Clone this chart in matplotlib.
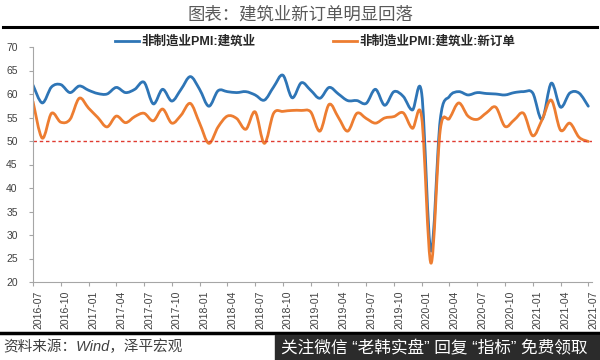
import matplotlib
matplotlib.use("Agg")
import matplotlib.pyplot as plt
import matplotlib.transforms as mtransforms
from matplotlib.lines import Line2D
from matplotlib.patches import Rectangle, PathPatch
from matplotlib.path import Path
import numpy as np
import pandas as pd

plt.rcParams['font.family'] = ['Liberation Sans', 'Noto Sans CJK SC']

# monthly, 2016-07 .. 2021-07
months = list(pd.date_range('2016-07-01', '2021-07-01', freq='MS').strftime('%Y-%m'))

construction = [61.9, 58.1, 61.5, 62.0, 60.3, 61.7, 60.8, 60.1, 60.0, 61.4,
                60.3, 61.0, 62.5, 57.9, 61.0, 58.5, 61.0, 63.7, 61.0, 57.4,
                60.7, 60.5, 60.3, 60.5, 59.8, 58.7, 61.5, 64.0, 59.2, 62.4,
                60.8, 59.1, 61.4, 60.0, 58.6, 58.6, 58.0, 61.0, 57.6, 60.5,
                59.5, 56.6, 60.1, 26.6, 54.5, 59.5, 60.5, 59.8, 60.3, 60.1,
                60.0, 59.8, 60.3, 60.5, 60.2, 54.6, 62.3, 57.2, 60.2, 60.2,
                57.4]

new_orders = [58.4, 50.6, 55.9, 54.0, 54.6, 59.1, 57.0, 55.0, 53.0, 55.3,
              53.9, 55.2, 55.9, 54.3, 56.8, 53.8, 55.5, 58.0, 53.8, 49.5,
              53.0, 55.3, 54.8, 52.5, 56.2, 49.5, 55.9, 56.3, 56.5, 56.5,
              56.2, 52.1, 57.8, 55.0, 52.1, 55.9, 54.8, 53.8, 54.9, 55.2,
              56.0, 52.7, 55.0, 24.0, 52.3, 54.8, 58.1, 55.3, 54.6, 56.0,
              57.2, 53.1, 54.5, 55.9, 51.1, 54.5, 58.7, 52.3, 53.8, 50.8,
              49.9]

labels = ['非制造业PMI:建筑业', '非制造业PMI:建筑业:新订单']
colors = ['#2E75B6', '#ED7D31']


def smooth_path(xs, ys):
    # excel-like smoothed line: cubic bezier through every data point
    p = np.column_stack([xs, ys]).astype(float)
    pad = np.vstack([p[0], p, p[-1]])
    verts = [p[0]]
    codes = [Path.MOVETO]
    for i in range(len(p) - 1):
        c1 = pad[i + 1] + (pad[i + 2] - pad[i]) / 6
        c2 = pad[i + 2] - (pad[i + 3] - pad[i + 1]) / 6
        verts += [c1, c2, p[i + 1]]
        codes += [Path.CURVE4] * 3
    return Path(verts, codes)


fig = plt.figure(figsize=(6, 3.6), dpi=100)
ax = fig.add_axes([33/600, 78/360, 559/600, 235/360])

x = np.arange(len(months))
for ys, c in zip([construction, new_orders], colors):
    ax.add_patch(PathPatch(smooth_path(x, ys), fill=False, edgecolor=c,
                           lw=2, capstyle='round', joinstyle='round'))
ax.axhline(50, color='#E03C31', lw=1, ls=(0, (2.5, 2)))

ax.set_xlim(0, 60.4)
ax.set_ylim(20, 70)
ax.set_yticks(range(20, 71, 5))
ax.set_xticks(x[::3])
ax.set_xticklabels(months[::3], rotation=90)

for s in ['top', 'right']:
    ax.spines[s].set_visible(False)
for s in ['left', 'bottom']:
    ax.spines[s].set_color('#A6A6A6')
ax.tick_params(axis='both', colors='#A6A6A6', labelcolor='#404040',
               labelsize=7.5, length=3)
ax.tick_params(axis='y', pad=8)
ax.tick_params(axis='x', pad=3)

offset = mtransforms.ScaledTranslation(5/100, 0, fig.dpi_scale_trans)
for lab in ax.get_xticklabels():
    lab.set_transform(lab.get_transform() + offset)

handles = [Line2D([], [], color=c, lw=2) for c in colors]
fig.legend(handles, labels, loc='center', bbox_to_anchor=(315/600, 1 - 42/360),
           ncol=2, frameon=False, prop={'size': 9, 'weight': 'bold'},
           handlelength=1.9, handletextpad=0.2, columnspacing=6.2,
           labelcolor='#262626')

fig.text(0.5, 1 - 14/360, '图表：建筑业新订单明显回落', ha='center', va='center',
         fontsize=12.5, color='#595959')
fig.add_artist(Line2D([0.005, 0.995], [1 - 27/360] * 2, color='black', lw=2.2,
                      transform=fig.transFigure))
fig.add_artist(Line2D([0.0, 1.0], [1 - 333/360] * 2, color='black', lw=2.5,
                      transform=fig.transFigure))
fig.text(3/600, 1 - 347/360, '资料来源：Wind，泽平宏观', ha='left', va='center',
         fontsize=10.5, color='#404040', style='italic')

fig.add_artist(Rectangle((275/600, 0), 325/600, 25/360, transform=fig.transFigure,
                         color='#2B2B2B', zorder=5))
fig.text(281/600, 1 - 348/360, '关注微信 “老韩实盘” 回复 “指标” 免费领取', ha='left',
         va='center', fontsize=12, color='white', zorder=6)

plt.savefig('out.png', dpi=100)
plt.close()
